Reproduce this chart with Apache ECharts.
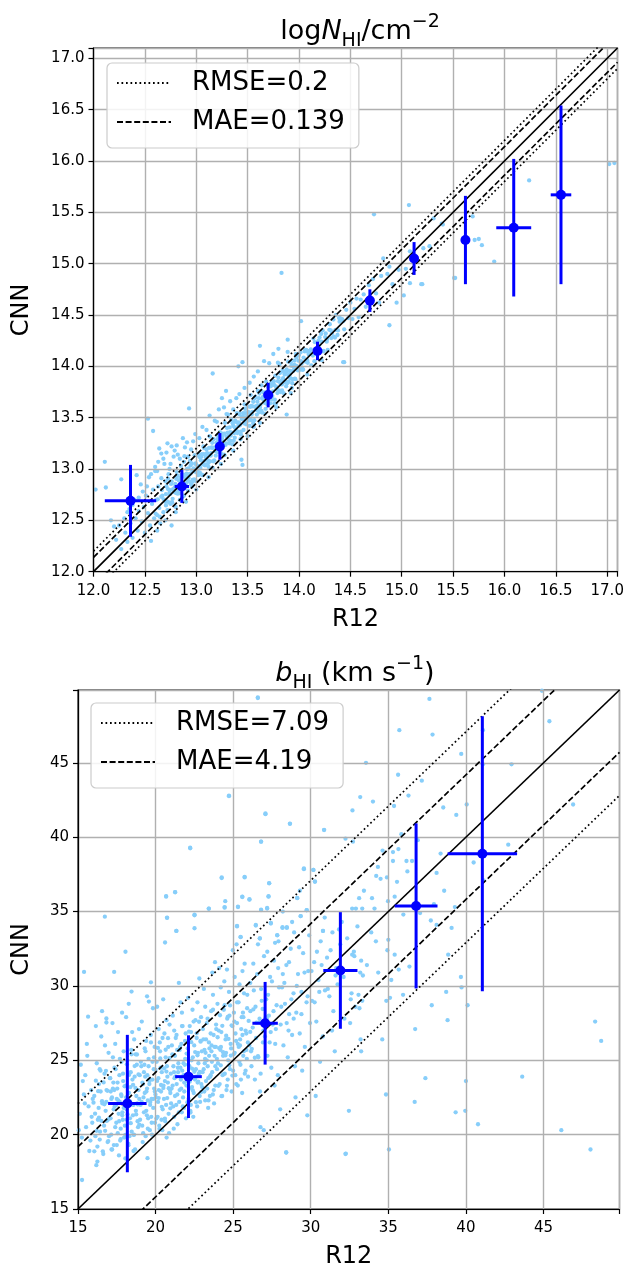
<!DOCTYPE html>
<html>
<head>
<meta charset="utf-8">
<script src="https://cdn.jsdelivr.net/npm/echarts@6/dist/echarts.min.js"></script>
<style>
html,body{margin:0;padding:0;background:#fff;}
#chart{width:627px;height:1270px;}
</style>
</head>
<body>
<div id="chart"></div>
<script>
// ---------- top panel: log N_HI ----------
const nhiRange = [12, 17.1];
const nhiTicks = [12.0, 12.5, 13.0, 13.5, 14.0, 14.5, 15.0, 15.5, 16.0, 16.5, 17.0];
const nhiRMSE = 0.2;
const nhiMAE = 0.139;
const nhiBinX = [12.36, 12.86, 13.23, 13.70, 14.18, 14.69, 15.12, 15.62, 16.09, 16.55];
const nhiBinY = [12.69, 12.83, 13.22, 13.72, 14.15, 14.64, 15.05, 15.23, 15.35, 15.67];
const nhiBinXerr = [0.25, 0.07, 0.04, 0.03, 0.03, 0.03, 0.03, 0.03, 0.17, 0.10];
const nhiBinYerr = [0.35, 0.16, 0.13, 0.12, 0.09, 0.11, 0.16, 0.43, 0.67, 0.87];
const nhiScatter = [
[12.02,12.80],[12.11,13.07],[12.12,12.82],[12.17,12.50],[12.20,12.44],[12.27,12.90],[12.42,12.94],[12.53,13.49],[12.58,13.37],[12.64,13.20],[12.66,13.15],[12.76,12.45],[12.76,13.22],[12.81,13.23],
[12.22,12.31],[12.25,12.45],[12.27,12.22],[12.30,12.52],[12.31,12.38],[12.33,12.29],[12.35,12.61],[12.36,12.47],[12.38,12.33],[12.40,12.70],[12.41,12.52],[12.43,12.40],[12.44,12.59],[12.46,12.85],[12.47,12.49],[12.49,12.63],[12.50,12.38],[12.51,12.74],[12.53,12.57],[12.54,12.92],[12.55,12.45],[12.57,12.66],[12.58,12.80],[12.59,12.52],[12.60,12.98],
[12.61,12.70],[12.62,12.55],[12.63,12.83],[12.64,12.62],[12.65,12.47],[12.66,12.91],[12.67,12.74],[12.68,12.58],[12.69,13.05],[12.70,12.68],[12.71,12.83],[12.72,12.60],[12.73,12.95],[12.74,12.77],[12.75,12.66],[12.76,12.88],[12.77,12.71],[12.78,13.12],[12.79,12.82],[12.80,12.63],[12.81,12.97],[12.82,12.76],[12.83,12.89],[12.84,12.70],[12.85,13.03],[12.86,12.81],[12.87,12.93],[12.88,12.74],[12.89,13.21],[12.90,12.86],[12.91,13.00],[12.92,12.79],[12.93,12.95],[12.94,13.08],[12.95,12.85],[12.96,12.99],[12.97,13.27],[12.98,12.90],[12.99,13.05],[13.00,12.88],
[12.62,12.98],[12.66,12.73],[12.70,12.88],[12.74,13.00],[12.78,12.80],[12.82,13.14],[12.88,13.07],[12.92,13.12],[12.96,12.83],[12.72,13.25],
[12.605,12.565],[12.625,12.705],[12.645,12.535],[12.665,12.795],[12.685,12.705],[12.705,12.645],[12.725,12.905],[12.745,12.795],[12.765,12.675],[12.785,12.795],[12.805,12.905],[12.825,12.795],[12.845,12.915],[12.865,12.725],[12.885,13.125],[12.905,12.935],[12.925,12.915],[12.945,13.035],[12.965,12.895],[12.985,13.135],
[13.01,13.03],[13.02,12.94],[13.03,13.14],[13.04,13.01],[13.05,13.12],[13.06,12.94],[13.07,13.22],[13.08,13.08],[13.09,13.04],[13.10,13.19],[13.11,13.15],[13.12,13.02],[13.13,13.32],[13.14,13.13],[13.15,13.21],[13.16,13.01],[13.17,13.29],[13.18,13.21],[13.19,13.13],[13.20,13.46],[13.21,13.29],[13.22,13.20],[13.23,13.36],[13.24,13.15],[13.25,13.30],[13.26,13.27],[13.27,13.14],[13.28,13.45],[13.29,13.25],[13.30,13.40],[13.31,13.53],[13.32,13.25],[13.33,13.36],[13.34,13.48],[13.35,13.24],[13.36,13.42],[13.37,13.35],[13.38,13.47],[13.39,13.69],[13.40,13.35],[13.41,13.42],[13.42,13.54],[13.43,13.29],[13.44,13.51],[13.45,13.49],[13.46,13.38],[13.47,13.63],[13.48,13.48],[13.49,13.46],[13.50,13.61],
[13.015,12.975],[13.035,13.115],[13.055,12.945],[13.075,13.205],[13.095,13.115],[13.115,13.055],[13.135,13.315],[13.155,13.205],[13.175,13.085],[13.195,13.205],[13.215,13.315],[13.235,13.205],[13.255,13.325],[13.275,13.135],[13.295,13.535],[13.315,13.345],[13.335,13.325],[13.355,13.445],[13.375,13.305],[13.395,13.545],[13.415,13.455],[13.435,13.335],[13.455,13.515],[13.475,13.585],[13.495,13.475],
[13.51,13.55],[13.52,13.42],[13.53,13.72],[13.54,13.53],[13.55,13.61],[13.56,13.41],[13.57,13.69],[13.58,13.61],[13.59,13.53],[13.60,13.76],[13.61,13.69],[13.62,13.60],[13.63,13.76],[13.64,13.55],[13.65,13.70],[13.66,13.67],[13.67,13.54],[13.68,13.85],[13.69,13.65],[13.70,13.80],[13.71,13.73],[13.72,13.64],[13.73,13.84],[13.74,13.71],[13.75,13.82],[13.76,13.64],[13.77,13.91],[13.78,13.78],[13.79,13.74],[13.80,13.89],[13.81,14.02],[13.82,13.75],[13.83,13.86],[13.84,13.96],[13.85,13.74],[13.86,13.92],[13.87,13.85],[13.88,13.97],[13.89,14.14],[13.90,13.85],[13.91,13.92],[13.92,14.04],[13.93,13.79],[13.94,14.01],[13.95,13.99],[13.96,13.88],[13.97,14.12],[13.98,13.98],[13.99,13.96],[14.00,14.11],
[13.515,13.475],[13.535,13.615],[13.555,13.445],[13.575,13.705],[13.595,13.615],[13.615,13.555],[13.635,13.815],[13.655,13.705],[13.675,13.585],[13.695,13.705],[13.715,13.815],[13.735,13.705],[13.755,13.825],[13.775,13.635],[13.795,14.035],[13.815,13.845],[13.835,13.825],[13.855,13.945],[13.875,13.805],[13.895,14.045],[13.915,13.955],[13.935,13.835],[13.955,14.015],[13.975,14.085],[13.995,13.975],
[14.02,14.05],[14.04,13.97],[14.06,14.16],[14.08,14.06],[14.10,14.15],[14.12,14.01],[14.14,14.27],[14.16,14.17],[14.18,14.14],[14.20,14.28],[14.22,14.24],[14.24,14.15],[14.26,14.32],[14.28,14.16],[14.30,14.41],[14.32,14.32],[14.34,14.29],[14.36,14.50],[14.38,14.35],[14.40,14.47],[14.42,14.46],[14.44,14.36],[14.46,14.55],[14.48,14.47],[14.50,14.62],[14.52,14.46],[14.54,14.56],[14.56,14.66],[14.58,14.48],[14.60,14.65],
[14.03,13.98],[14.07,14.16],[14.11,14.13],[14.15,14.05],[14.19,14.25],[14.23,14.35],[14.27,14.24],[14.31,14.35],[14.35,14.28],[14.39,14.47],[14.43,14.44],
[12.705,12.755],[12.715,12.685],[12.725,12.805],[12.735,12.675],[12.745,12.755],[12.755,12.855],[12.765,12.675],[12.775,12.805],[12.785,12.775],[12.795,12.855],[12.805,12.765],[12.815,12.935],[12.825,12.825],[12.835,12.765],[12.845,12.885],[12.855,12.945],[12.865,12.845],[12.875,12.945],[12.885,12.835],[12.895,12.915],
[12.905,12.955],[12.915,12.885],[12.925,13.005],[12.935,12.875],[12.945,12.955],[12.955,13.055],[12.965,12.875],[12.975,13.005],[12.985,12.975],[12.995,13.055],[13.005,12.965],[13.015,13.135],[13.025,13.025],[13.035,12.965],[13.045,13.085],[13.055,13.145],[13.065,13.045],[13.075,13.145],[13.085,13.035],[13.095,13.115],
[13.105,13.155],[13.115,13.085],[13.125,13.205],[13.135,13.075],[13.145,13.155],[13.155,13.255],[13.165,13.075],[13.175,13.205],[13.185,13.175],[13.195,13.255],[13.205,13.165],[13.215,13.335],[13.225,13.225],[13.235,13.165],[13.245,13.285],[13.255,13.345],[13.265,13.245],[13.275,13.345],[13.285,13.235],[13.295,13.315],
[13.305,13.355],[13.315,13.285],[13.325,13.405],[13.335,13.275],[13.345,13.355],[13.355,13.455],[13.365,13.275],[13.375,13.405],[13.385,13.375],[13.395,13.455],[13.405,13.365],[13.415,13.535],[13.425,13.425],[13.435,13.365],[13.445,13.485],[13.455,13.545],[13.465,13.445],[13.475,13.545],[13.485,13.435],[13.495,13.515],
[13.505,13.555],[13.515,13.485],[13.525,13.605],[13.535,13.475],[13.545,13.555],[13.555,13.655],[13.565,13.475],[13.575,13.605],[13.585,13.575],[13.595,13.655],[13.605,13.565],[13.615,13.735],[13.625,13.625],[13.635,13.565],[13.645,13.685],[13.655,13.745],[13.665,13.645],[13.675,13.745],[13.685,13.635],[13.695,13.715],
[13.705,13.755],[13.715,13.685],[13.725,13.805],[13.735,13.675],[13.745,13.755],[13.755,13.855],[13.765,13.675],[13.775,13.805],[13.785,13.775],[13.795,13.855],[13.805,13.765],[13.815,13.935],[13.825,13.825],[13.835,13.765],[13.845,13.885],[13.855,13.945],[13.865,13.845],[13.875,13.945],[13.885,13.835],[13.895,13.915],
[13.905,13.955],[13.915,13.885],[13.925,14.005],[13.935,13.875],[13.945,13.955],[13.955,14.055],[13.965,13.875],[13.975,14.005],[13.985,13.975],[13.995,14.055],[14.005,13.965],[14.015,14.135],[14.025,14.025],[14.035,13.965],[14.045,14.085],[14.055,14.145],[14.065,14.045],[14.075,14.145],[14.085,14.035],[14.095,14.115],
[14.115,14.165],[14.135,14.105],[14.155,14.235],[14.175,14.115],[14.195,14.205],[14.215,14.315],[14.235,14.145],[14.255,14.285],[14.275,14.265],[14.295,14.355],[14.315,14.275],[14.335,14.455],[14.355,14.355],[14.375,14.305],[14.395,14.435],
[12.52,12.83],[12.56,12.95],[12.60,13.02],[12.63,13.07],[12.68,13.10],[12.71,13.16],[12.75,13.05],[12.79,13.18],[12.84,13.10],[12.87,13.30],[12.91,13.26],[12.95,13.19],[12.99,13.34],[13.03,13.30],[13.06,13.41],[13.10,13.38],[13.13,13.52],[13.18,13.47],[13.22,13.58],[13.27,13.60],[13.33,13.66],[13.36,13.58],[13.42,13.73],[13.47,13.79],[13.52,13.84],[13.56,13.90],[13.60,13.95],[13.66,14.05],[13.71,14.03],[13.75,14.12],[13.80,14.17],[12.48,12.78],[12.44,12.72],[12.38,12.65],[12.33,12.58],
[12.56,12.30],[12.62,12.40],[12.70,12.50],[12.80,12.58],[12.90,12.68],[13.00,12.80],[13.12,12.92],[13.24,13.05],[13.36,13.18],[13.50,13.32],[13.62,13.45],[13.78,13.60],[13.92,13.74],[14.08,13.92],[14.22,14.06],
[14.63,14.70],[14.65,14.58],[14.68,14.79],[14.70,14.66],[14.72,14.85],[14.75,14.71],[14.78,14.62],[14.80,14.88],[14.82,15.05],[14.86,14.90],[14.88,14.97],[14.91,14.80],[14.97,14.94],[15.04,14.95],[15.08,15.12],[15.14,15.02],[15.21,15.15],[15.27,15.17],[15.31,15.44],[15.39,15.39],[15.40,15.38],
[13.16,13.93],[12.93,13.59],[13.29,13.76],[13.25,13.69],[13.41,14.00],[13.45,14.04],[13.62,14.20],[13.88,13.53],[13.44,13.09],[13.45,13.04],[13.89,14.26],[14.44,14.04],[13.83,14.91],[14.73,15.48],[15.07,15.57],[15.19,14.80],[15.08,14.81],[14.95,14.62],[15.02,14.69],[14.88,14.40],[14.43,14.04],[14.02,14.44],[15.51,14.86],[15.71,15.23],[15.75,15.24],[15.78,15.18],[15.90,15.02],[15.69,15.46],[16.24,15.81],[17.02,15.97],[17.07,15.98],[15.52,14.86],[15.20,14.80]
];

// ---------- bottom panel: b_HI ----------
const bRange = [15, 49.9];
const bTicks = [15, 20, 25, 30, 35, 40, 45];
const bRMSE = 7.09;
const bMAE = 4.19;
const bBinX = [18.18, 22.12, 27.06, 31.91, 36.79, 41.06];
const bBinY = [22.09, 23.90, 27.49, 31.04, 35.38, 38.89];
const bBinXerr = [1.24, 0.86, 0.82, 1.10, 1.38, 2.24];
const bBinYerr = [4.62, 2.78, 2.78, 3.92, 5.55, 9.25];
const bScatter = [
[15.12,21.4],[15.25,19.8],[15.31,23.6],[15.44,22.1],[15.52,20.5],[15.60,25.3],[15.68,21.9],[15.73,18.9],[15.85,23.0],[15.92,20.8],[15.18,24.7],[15.38,22.7],[15.57,26.1],[15.80,19.6],[15.95,22.4],[15.05,20.3],[15.47,24.0],[15.88,21.2],
[16.05,22.6],[16.12,19.9],[16.21,24.8],[16.28,21.0],[16.35,23.4],[16.42,20.2],[16.50,26.6],[16.57,22.1],[16.63,18.7],[16.71,24.1],[16.78,21.6],[16.84,23.0],[16.91,19.5],[16.97,25.5],[16.15,27.3],[16.33,21.8],[16.46,22.9],[16.68,20.6],[16.82,22.2],[16.25,19.2],[16.55,28.3],[16.74,26.0],[16.93,21.0],[16.40,24.4],
[17.03,21.1],[17.08,23.8],[17.14,20.0],[17.19,22.5],[17.25,25.2],[17.31,19.3],[17.36,21.9],[17.42,24.4],[17.47,20.8],[17.53,23.1],[17.58,26.9],[17.64,18.6],[17.69,22.2],[17.75,20.4],[17.80,24.9],[17.86,21.5],[17.91,23.6],[17.97,19.8],[17.11,22.9],[17.22,27.5],[17.34,23.0],[17.45,22.0],[17.56,20.1],[17.67,24.0],[17.78,22.7],[17.89,21.0],[17.16,19.0],[17.40,26.1],[17.62,21.4],[17.84,28.2],[17.28,23.5],[17.50,22.4],[17.72,19.6],[17.94,25.6],
[18.02,20.6],[18.07,23.3],[18.13,21.7],[18.18,25.0],[18.24,19.4],[18.29,22.8],[18.35,21.1],[18.40,24.2],[18.46,20.2],[18.51,23.7],[18.57,22.0],[18.62,26.4],[18.68,19.0],[18.73,21.6],[18.79,24.7],[18.84,20.9],[18.90,23.0],[18.95,22.4],[18.10,27.9],[18.21,22.3],[18.32,19.9],[18.43,25.7],[18.54,21.3],[18.65,23.9],[18.76,22.6],[18.87,20.5],[18.98,24.0],[18.15,21.0],[18.38,23.2],[18.60,20.0],[18.82,22.1],[18.27,28.8],[18.49,26.9],[18.71,25.4],[18.93,27.1],[18.05,18.4],[18.58,18.9],
[19.03,22.0],[19.08,24.6],[19.14,20.6],[19.19,23.4],[19.25,21.5],[19.30,25.8],[19.36,19.9],[19.41,22.9],[19.47,24.0],[19.52,21.1],[19.58,23.7],[19.63,20.3],[19.69,26.7],[19.74,22.4],[19.80,24.9],[19.85,21.8],[19.91,23.1],[19.96,20.8],[19.11,27.6],[19.22,22.5],[19.33,23.9],[19.44,21.3],[19.55,25.1],[19.66,22.2],[19.77,20.0],[19.88,24.4],[19.99,22.7],[19.17,19.5],[19.39,26.3],[19.61,23.6],[19.83,28.5],[19.28,24.7],[19.50,22.3],[19.72,21.2],[19.94,25.9],[19.45,29.3],
[20.02,22.5],[20.07,24.9],[20.13,21.2],[20.18,23.8],[20.24,20.6],[20.29,25.6],[20.35,22.9],[20.40,24.2],[20.46,21.7],[20.51,23.3],[20.57,26.8],[20.62,20.9],[20.68,22.0],[20.73,24.6],[20.79,23.5],[20.84,21.4],[20.90,27.4],[20.95,22.8],[20.10,28.6],[20.21,23.0],[20.32,24.5],[20.43,20.3],[20.54,22.4],[20.65,25.2],[20.76,23.9],[20.87,20.1],[20.98,24.1],[20.16,22.2],[20.38,21.0],[20.60,23.6],[20.82,25.9],[20.27,26.2],[20.49,29.1],[20.71,19.8],[20.93,23.0],[20.74,34.6],[20.68,36.0],
[21.03,23.1],[21.08,25.4],[21.14,21.9],[21.19,24.2],[21.25,22.6],[21.30,26.5],[21.36,23.4],[21.41,20.7],[21.47,24.8],[21.52,22.2],[21.58,25.9],[21.63,23.7],[21.69,21.5],[21.74,27.3],[21.80,24.0],[21.85,22.9],[21.91,25.1],[21.96,21.1],[21.11,28.0],[21.22,23.8],[21.33,22.0],[21.44,24.5],[21.55,23.0],[21.66,26.1],[21.77,22.5],[21.88,24.7],[21.99,23.3],[21.17,20.4],[21.39,25.7],[21.61,28.9],[21.83,21.8],[21.28,23.9],[21.50,30.2],[21.72,24.3],[21.94,26.8],[21.26,36.3],[21.34,33.7],
[22.02,23.6],[22.07,25.8],[22.13,22.4],[22.18,24.6],[22.24,21.6],[22.29,26.9],[22.35,23.2],[22.40,25.2],[22.46,22.8],[22.51,24.3],[22.57,27.7],[22.62,23.9],[22.68,21.9],[22.73,25.5],[22.79,24.1],[22.84,22.6],[22.90,26.3],[22.95,23.4],[22.10,29.2],[22.21,24.0],[22.32,25.0],[22.43,21.2],[22.54,23.7],[22.65,26.5],[22.76,24.8],[22.87,22.2],[22.98,25.6],[22.16,23.1],[22.38,28.4],[22.60,24.4],[22.82,30.5],[22.27,22.0],[22.49,26.0],[22.71,23.5],[22.93,27.9],[22.51,34.8],[22.23,39.3],
[23.03,24.2],[23.08,26.4],[23.14,22.9],[23.19,25.1],[23.25,23.6],[23.30,27.5],[23.36,24.6],[23.41,22.3],[23.47,25.8],[23.52,23.9],[23.58,28.3],[23.63,24.9],[23.69,22.7],[23.74,26.7],[23.80,25.3],[23.85,23.3],[23.91,27.1],[23.96,24.4],[23.11,29.8],[23.22,25.5],[23.33,23.1],[23.44,26.2],[23.55,24.0],[23.66,30.9],[23.77,22.1],[23.88,25.9],[23.99,28.8],[23.17,24.8],[23.39,21.8],[23.61,26.0],[23.83,31.6],[23.43,35.2],
[24.02,24.8],[24.07,27.0],[24.13,23.4],[24.18,25.7],[24.24,26.9],[24.29,22.6],[24.35,25.3],[24.40,28.4],[24.46,24.1],[24.51,26.4],[24.57,23.0],[24.62,27.8],[24.68,25.0],[24.73,29.6],[24.79,24.4],[24.84,26.1],[24.90,22.9],[24.95,27.3],[24.10,31.2],[24.21,25.9],[24.32,24.0],[24.43,30.3],[24.54,25.5],[24.65,23.7],[24.76,28.0],[24.87,25.8],[24.98,32.4],[24.26,37.3],[24.45,35.3],[24.49,35.7],[24.73,42.8],
[25.03,25.4],[25.08,27.6],[25.14,24.0],[25.19,26.3],[25.25,28.9],[25.30,23.3],[25.36,25.9],[25.41,30.1],[25.47,24.7],[25.52,27.1],[25.58,22.8],[25.63,28.2],[25.69,25.6],[25.74,31.5],[25.80,24.3],[25.85,26.8],[25.91,29.4],[25.96,23.9],[25.22,32.8],[25.44,26.0],[25.66,27.9],[25.88,25.1],[25.31,35.3],[25.25,34.0],[25.48,33.3],[25.59,36.0],[25.74,37.3],
[26.04,26.0],[26.11,28.3],[26.18,24.6],[26.26,27.2],[26.33,29.7],[26.40,23.7],[26.48,26.5],[26.55,30.8],[26.62,25.2],[26.70,27.8],[26.77,24.1],[26.84,29.0],[26.92,26.2],[26.99,32.0],[26.15,25.6],[26.44,28.6],[26.73,22.9],[26.95,27.0],[26.46,34.1],[26.80,35.1],[26.72,33.2],[26.05,35.8],[26.80,39.7],[26.59,49.4],[26.76,20.5],[26.97,20.3],
[27.05,26.6],[27.13,29.1],[27.21,25.3],[27.30,28.0],[27.38,30.6],[27.46,24.5],[27.55,27.4],[27.63,31.7],[27.71,26.1],[27.80,28.7],[27.88,24.0],[27.96,29.9],[27.17,27.8],[27.42,26.9],[27.67,23.3],[27.92,33.0],[27.43,34.2],[27.19,35.2],[27.28,36.0],[27.32,36.9],[27.84,33.4],[27.08,41.6],
[28.06,27.4],[28.15,29.9],[28.24,26.0],[28.34,28.8],[28.43,31.4],[28.52,25.2],[28.61,28.1],[28.71,32.5],[28.80,26.7],[28.89,29.5],[28.98,24.6],[28.20,30.8],[28.57,27.0],[28.93,33.6],[28.18,33.9],[28.46,33.9],[28.66,40.9],[28.03,21.7],[28.42,18.8],
[29.07,28.2],[29.18,30.8],[29.29,26.8],[29.40,29.6],[29.51,32.2],[29.62,25.9],[29.73,28.9],[29.84,31.0],[29.95,27.5],[29.35,34.7],[29.13,35.9],[29.74,35.1],[29.56,37.9],[29.02,22.5],[29.78,21.3],[29.45,24.3],
[30.08,29.0],[30.22,31.6],[30.36,27.6],[30.50,30.4],[30.64,33.0],[30.78,26.6],[30.92,29.7],[30.17,37.8],[30.27,37.0],[30.79,33.7],[30.86,40.5],[30.32,22.6],[30.60,24.9],
[31.10,29.8],[31.28,32.4],[31.46,28.3],[31.64,31.2],[31.82,33.8],[31.37,27.0],[31.73,30.1],[31.55,25.6],
[32.12,30.6],[32.35,33.2],[32.58,29.1],[32.81,32.0],[32.46,21.6],[32.24,18.7],[32.69,41.8],[32.72,39.7],[32.24,39.9],[32.00,34.3],[32.78,32.3],[32.67,32.1],[32.63,29.5],[32.88,28.6],[32.17,27.8],[32.54,27.5],[32.67,35.2],[32.91,35.2],
[33.25,31.7],[33.62,31.4],[33.19,30.9],[33.36,30.7],[33.08,29.4],[33.32,29.0],[33.14,28.5],[33.21,26.4],[33.25,25.6],[33.01,34.0],[33.12,35.9],[33.95,35.9],[33.43,36.4],[33.19,42.7],[33.56,45.0],[33.32,35.2],[34.01,42.4],[34.11,35.2],[34.22,37.4],[34.50,37.2],[34.33,38.0],[34.63,39.1],[34.91,37.3],[34.98,35.7],[34.35,30.9],[34.61,26.4],[34.87,29.0],[34.85,22.7],[34.20,33.0],[33.90,33.6],[35.00,33.1],[34.94,32.4],
[35.41,32.1],[35.67,31.1],[35.19,30.4],[35.11,29.2],[35.95,29.4],[35.04,19.0],[35.30,39.0],[35.65,39.2],[35.30,38.4],[35.56,37.0],[35.41,36.0],[35.37,42.1],[35.63,44.2],[35.71,47.2],[35.84,40.2],[35.97,34.8],[36.17,38.4],[36.53,38.4],[36.23,37.7],[36.30,42.8],[36.90,39.8],[36.36,31.3],[36.73,27.1],[36.70,22.2],[37.05,34.9],[37.16,43.8],[37.65,49.3],[37.85,46.9],[37.74,34.4],[37.94,35.5],[37.80,28.7],[37.39,23.8],[38.11,37.6],[38.11,34.1],[38.37,38.9],[38.54,42.0],[38.60,36.4],[38.86,32.1],[38.73,29.6],[38.82,27.7],[39.08,33.9],[39.29,35.3],[39.38,41.5],[39.70,45.6],[39.68,30.6],[39.72,29.9],[39.34,21.5],[39.96,21.6],[40.05,42.2],[40.11,28.7],[40.00,23.6],[40.50,38.3],[40.78,20.7],[41.10,47.2],[41.10,44.9],[41.13,37.1],[42.73,39.5],[42.94,44.9],[43.63,23.9],[44.90,49.85],[45.38,47.8],[46.91,42.2],[46.15,20.3],[48.33,27.6],[48.72,26.3],[48.03,19.0],
[15.26,16.95],[16.18,17.95],[19.48,18.42],[28.42,18.80],[32.26,18.73],[18.06,32.30],[15.39,30.94],[18.45,29.62],[17.33,30.94],[19.70,30.24],[19.57,28.95],[16.83,27.81],[16.83,27.54],[15.65,27.93],
[26.59,49.36],[24.73,42.76],[27.08,41.55],[28.66,40.91],[30.86,40.48],[26.80,39.70],[22.23,39.26],[29.56,37.85],[30.17,37.80],[24.26,37.25],[25.74,37.34],[27.32,36.91],[30.27,37.03],[20.68,36.04],[21.26,36.31],[25.59,35.98],[26.05,35.83],[27.28,36.03],[29.13,35.92],[29.74,35.09],[25.31,35.33],[26.80,35.13],[27.19,35.24],[23.43,35.19],[24.45,35.26],[16.73,34.66],[20.74,34.57],[22.51,34.75],[22.51,33.88],[21.34,33.70],[20.61,32.92],[25.25,34.04],[25.48,33.28],[26.46,34.06],[27.43,34.24],[28.18,33.95],[28.46,33.95],[29.35,34.69],[30.79,33.70],[27.84,33.41],[26.72,33.19],
[16.00,22.15],[16.05,18.88],[16.10,21.41],[16.15,23.63],[16.20,20.26],[16.25,18.19],[16.30,22.92],[16.35,21.14],[16.40,19.67],[16.45,24.30],[16.50,20.93],[16.55,22.25],[16.60,18.88],[16.65,23.51],[16.70,22.04],[16.75,20.26],[16.80,24.29],[16.85,20.92],[16.90,22.95],[16.95,19.57],
[17.00,19.9],[17.05,23.8],[17.10,21.1],[17.15,22.4],[17.20,19.0],[17.25,23.1],[17.30,21.7],[17.35,24.5],[17.40,20.5],[17.45,22.0],[17.50,19.3],[17.55,23.5],[17.60,22.3],[17.65,20.9],[17.70,25.1],[17.75,19.7],[17.80,22.6],[17.85,21.3],[17.90,24.1],[17.95,21.8],
[18.00,23.25],[18.05,19.98],[18.10,22.51],[18.15,24.73],[18.20,21.36],[18.25,19.29],[18.30,24.02],[18.35,22.24],[18.40,20.77],[18.45,25.40],[18.50,22.03],[18.55,23.35],[18.60,19.98],[18.65,24.61],[18.70,23.14],[18.75,21.36],[18.80,25.39],[18.85,22.02],[18.90,24.05],[18.95,20.67],
[19.00,21.0],[19.05,24.9],[19.10,22.2],[19.15,23.5],[19.20,20.1],[19.25,24.2],[19.30,22.8],[19.35,25.6],[19.40,21.6],[19.45,23.1],[19.50,20.4],[19.55,24.6],[19.60,23.4],[19.65,22.0],[19.70,26.2],[19.75,20.8],[19.80,23.7],[19.85,22.4],[19.90,25.2],[19.95,22.9],
[20.00,24.35],[20.05,21.08],[20.10,23.61],[20.15,25.83],[20.20,22.46],[20.25,20.39],[20.30,25.12],[20.35,23.34],[20.40,21.87],[20.45,26.50],[20.50,23.13],[20.55,24.45],[20.60,21.08],[20.65,25.71],[20.70,24.24],[20.75,22.46],[20.80,26.49],[20.85,23.12],[20.90,25.15],[20.95,21.77],
[21.00,22.1],[21.05,26.0],[21.10,23.3],[21.15,24.6],[21.20,21.2],[21.25,25.3],[21.30,23.9],[21.35,26.7],[21.40,22.7],[21.45,24.2],[21.50,21.5],[21.55,25.7],[21.60,24.5],[21.65,23.1],[21.70,27.3],[21.75,21.9],[21.80,24.8],[21.85,23.5],[21.90,26.3],[21.95,24.0],
[22.00,25.45],[22.05,22.18],[22.10,24.71],[22.15,26.93],[22.20,23.56],[22.25,21.49],[22.30,26.22],[22.35,24.44],[22.40,22.97],[22.45,27.60],[22.50,24.23],[22.55,25.55],[22.60,22.18],[22.65,26.81],[22.70,25.34],[22.75,23.56],[22.80,27.59],[22.85,24.22],[22.90,26.25],[22.95,22.87],
[23.00,23.2],[23.05,27.1],[23.10,24.4],[23.15,25.7],[23.20,22.3],[23.25,26.4],[23.30,25.0],[23.35,27.8],[23.40,23.8],[23.45,25.3],[23.50,22.6],[23.55,26.8],[23.60,25.6],[23.65,24.2],[23.70,28.4],[23.75,23.0],[23.80,25.9],[23.85,24.6],[23.90,27.4],[23.95,25.1],
[24.00,26.55],[24.05,23.28],[24.10,25.81],[24.15,28.03],[24.20,24.66],[24.25,22.59],[24.30,27.32],[24.35,25.54],[24.40,24.07],[24.45,28.70],[24.50,25.33],[24.55,26.65],[24.60,23.28],[24.65,27.91],[24.70,26.44],[24.75,24.66],[24.80,28.69],[24.85,25.32],[24.90,27.35],[24.95,23.97],
[25.00,24.3],[25.05,28.2],[25.10,25.5],[25.15,26.8],[25.20,23.4],[25.25,27.5],[25.30,26.1],[25.35,28.9],[25.40,24.9],[25.45,26.4],[25.50,23.7],[25.55,27.9],[25.60,26.7],[25.65,25.3],[25.70,29.5],[25.75,24.1],[25.80,27.0],[25.85,25.7],[25.90,28.5],[25.95,26.2],
[26.00,27.65],[26.10,26.91],[26.20,25.76],[26.30,28.42],[26.40,25.17],[26.50,27.53],[26.60,25.28],[26.70,27.54],[26.80,29.79],[26.90,28.45],
[27.10,27.9],[27.25,29.4],[27.35,26.2],[27.50,30.3],[27.60,28.3],[27.75,27.1],[27.90,31.2],[28.10,28.6],[28.30,30.2],[28.45,27.5],[28.60,31.6],[28.75,29.1],[28.90,27.8],[29.10,30.0],[29.25,32.6],[29.40,28.1],[29.60,30.9],[29.80,29.3],[29.90,33.4],[30.05,31.0],[30.25,28.9],[30.40,32.3],[30.55,29.6],[30.70,31.4],[30.90,34.6],[31.05,31.9],[31.20,29.3],[31.40,33.6],[31.60,30.7],[31.90,32.8],
[27.20,32.3],[27.70,32.9],[28.20,35.0],[28.80,34.3],[29.30,36.4],[26.30,31.5],[26.60,32.8],[26.10,30.2],[25.60,31.0],[25.10,30.6],[24.60,31.1],[24.20,29.9],[23.70,29.4],[23.20,28.6],[22.70,28.9],[22.20,27.3],[21.70,28.2],[21.20,27.0],[20.70,27.7],[20.20,27.1]
];

// ---------- build ----------
const FONT = 'DejaVu Sans';
const SCATTER_COLOR = '#87cefa';
const BIN_COLOR = '#0000ff';

function zip4(a, b, c, d) { return a.map((v, i) => [v, b[i], c[i], d[i]]); }
function diag(range, off) { return [[range[0], range[0] + off], [range[1], range[1] + off]]; }

function makeAxis(gridIndex, range, ticks, step, decimals, isX, name) {
  return {
    type: 'value', gridIndex: gridIndex, min: range[0], max: range[1], interval: step,
    name: name, nameLocation: 'middle', nameGap: isX ? 36 : 60,
    nameTextStyle: { fontFamily: FONT, fontSize: 24, color: '#000' },
    axisLine: { show: true, onZero: false, lineStyle: { color: '#000', width: 1.2 } },
    axisTick: { show: true, inside: false, length: 5, lineStyle: { color: '#000', width: 1.2 } },
    axisLabel: {
      fontFamily: FONT, fontSize: 15, color: '#000', margin: isX ? 12 : 9,
      formatter: function (v) {
        for (const t of ticks) { if (Math.abs(t - v) < 1e-6) return t.toFixed(decimals); }
        return '';
      }
    },
    splitLine: { show: true, lineStyle: { color: '#b0b0b0', width: 1.4 } },
    z: 2
  };
}

function errRender(params, api) {
  const x = api.value(0), y = api.value(1), xe = api.value(2), ye = api.value(3);
  const l = api.coord([x - xe, y]), r = api.coord([x + xe, y]);
  const t = api.coord([x, y + ye]), b = api.coord([x, y - ye]);
  const c = api.coord([x, y]);
  const ls = { stroke: BIN_COLOR, lineWidth: 3 };
  return {
    type: 'group', children: [
      { type: 'line', shape: { x1: l[0], y1: l[1], x2: r[0], y2: r[1] }, style: ls },
      { type: 'line', shape: { x1: t[0], y1: t[1], x2: b[0], y2: b[1] }, style: ls },
      { type: 'circle', shape: { cx: c[0], cy: c[1], r: 5 }, style: { fill: BIN_COLOR } }
    ]
  };
}

function panelSeries(idx, range, scatter, rmse, mae, rmseName, maeName, binX, binY, binXe, binYe) {
  const base = { xAxisIndex: idx, yAxisIndex: idx };
  const lineBase = Object.assign({ type: 'line', symbol: 'none', showSymbol: false, silent: true, clip: true, animation: false,
    itemStyle: { color: 'rgba(0,0,0,0)', borderWidth: 0 } }, base);
  return [
    Object.assign({ type: 'scatter', data: scatter, symbolSize: 4.3, z: 1,
      itemStyle: { color: SCATTER_COLOR, opacity: 1 }, silent: true, animation: false, large: false }, base),
    Object.assign({}, lineBase, { name: '_id' + idx, data: diag(range, 0), z: 3, lineStyle: { color: '#000', width: 1.7, type: 'solid' } }),
    Object.assign({}, lineBase, { name: maeName, data: diag(range, mae), z: 3, lineStyle: { color: '#000', width: 1.7, type: [6, 2.6] } }),
    Object.assign({}, lineBase, { name: maeName, data: diag(range, -mae), z: 3, lineStyle: { color: '#000', width: 1.7, type: [6, 2.6] } }),
    Object.assign({}, lineBase, { name: rmseName, data: diag(range, rmse), z: 3, lineStyle: { color: '#000', width: 1.7, type: [1.7, 2.8] } }),
    Object.assign({}, lineBase, { name: rmseName, data: diag(range, -rmse), z: 3, lineStyle: { color: '#000', width: 1.7, type: [1.7, 2.8] } }),
    Object.assign({ type: 'custom', renderItem: errRender, data: zip4(binX, binY, binXe, binYe),
      encode: { x: 0, y: 1 }, z: 5, silent: true, animation: false }, base)
  ];
}

function legendFor(names, left, top) {
  return {
    data: names, orient: 'vertical', left: left, top: top,
    itemWidth: 54, itemHeight: 14, itemGap: 13,
    padding: [7, 14, 13, 9],
    borderColor: '#cccccc', borderWidth: 1.2, borderRadius: 5,
    backgroundColor: 'rgba(255,255,255,0.85)',
    itemStyle: { color: 'rgba(0,0,0,0)', borderColor: 'rgba(0,0,0,0)', borderWidth: 0, opacity: 0 },
    textStyle: { fontFamily: FONT, fontSize: 26, color: '#000', padding: [0, 0, 0, 16] },
    selectedMode: false,
    z: 10
  };
}

const nhiRmseName = 'RMSE=' + nhiRMSE;
const nhiMaeName = 'MAE=' + nhiMAE;
const bRmseName = 'RMSE=' + bRMSE;
const bMaeName = 'MAE=' + bMAE;

const richTitle = {
  t: { fontFamily: FONT, fontSize: 27, fontWeight: 'normal', color: '#000', lineHeight: 38 },
  it: { fontFamily: FONT, fontSize: 27, fontWeight: 'normal', fontStyle: 'italic', color: '#000', lineHeight: 38 },
  sub: { fontFamily: FONT, fontSize: 19, fontWeight: 'normal', color: '#000', verticalAlign: 'bottom', lineHeight: 38 },
  sup: { fontFamily: FONT, fontSize: 19, fontWeight: 'normal', color: '#000', verticalAlign: 'top', lineHeight: 38 }
};

const option = {
  animation: false,
  backgroundColor: '#fff',
  title: [
    { text: '{t|log}{it|N}{sub|HI}{t|/cm}{sup|−2}', left: 355, top: 8, textAlign: 'center',
      textStyle: { fontWeight: 'normal', rich: richTitle } },
    { text: '{it|b}{sub|HI}{t| (km s}{sup|−1}{t|)}', left: 350, top: 650, textAlign: 'center',
      textStyle: { fontWeight: 'normal', rich: richTitle } }
  ],
  legend: [
    legendFor([nhiRmseName, nhiMaeName], 107, 63),
    legendFor([bRmseName, bMaeName], 91, 703)
  ],
  grid: [
    { left: 93.5, top: 48, width: 524, height: 523.7, show: true, borderColor: '#000', borderWidth: 1.2, containLabel: false },
    { left: 78, top: 690, width: 541.5, height: 522.4, show: true, borderColor: '#000', borderWidth: 1.2, containLabel: false }
  ],
  xAxis: [
    makeAxis(0, nhiRange, nhiTicks, 0.5, 1, true, 'R12'),
    makeAxis(1, bRange, bTicks, 5, 0, true, 'R12')
  ],
  yAxis: [
    makeAxis(0, nhiRange, nhiTicks, 0.5, 1, false, 'CNN'),
    makeAxis(1, bRange, bTicks, 5, 0, false, 'CNN')
  ],
  series: [].concat(
    panelSeries(0, nhiRange, nhiScatter, nhiRMSE, nhiMAE, nhiRmseName, nhiMaeName, nhiBinX, nhiBinY, nhiBinXerr, nhiBinYerr),
    panelSeries(1, bRange, bScatter, bRMSE, bMAE, bRmseName, bMaeName, bBinX, bBinY, bBinXerr, bBinYerr)
  )
};
option.yAxis[1].nameGap = 44;

const chart = echarts.init(document.getElementById('chart'), null, { renderer: 'canvas' });
chart.setOption(option);
</script>
</body>
</html>
